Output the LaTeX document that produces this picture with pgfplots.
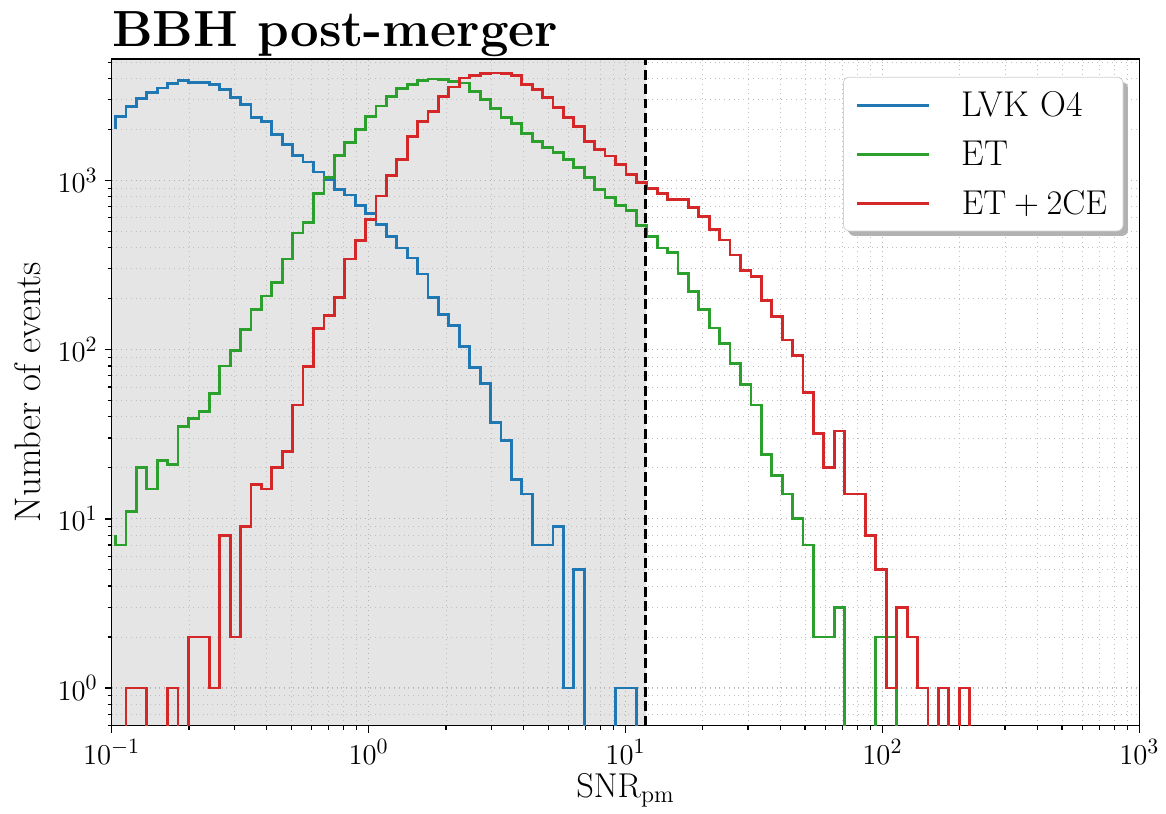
\documentclass[border=0pt]{standalone}
\usepackage{pgfplots}
\pgfplotsset{compat=1.18}
\usepackage{pgfplotstable}
\usetikzlibrary{shadows}

\definecolor{tabblue}{HTML}{1F77B4}
\definecolor{tabgreen}{HTML}{2CA02C}
\definecolor{tabred}{HTML}{D62728}
\definecolor{shade}{gray}{0.898}

% the legend's drop shadow is otherwise inherited by the legend lines
\makeatletter
\tikzset{no preactions/.code={\let\tikz@preactions\pgfutil@empty}}
\makeatother

% log-spaced bin edges; each row holds the count of the bin that ends at "edge"
% (first row: starting value of the step line; 0.01 = empty bin)
\pgfplotstableread{
edge    blue  green red
0.10364 2000  8     0.01
0.11378 2395  7     0.01
0.12491 2720  11    1
0.13713 3031  20    1
0.15054 3316  15    0.01
0.16527 3519  22    0.01
0.18144 3731  21    1
0.19919 3903  35    0.01
0.21868 3790  39    2
0.24007 3770  43    2
0.26355 3690  55    1
0.28934 3440  80    8
0.31764 3073  99    2
0.34873 2806  131   9
0.38284 2343  172   16
0.42029 2220  207   15
0.46139 1868  250   20
0.50654 1632  343   25
0.55609 1405  488   47
0.61050 1284  564   79
0.67021 1121  839   133
0.73580 1005  1039  159
0.80775 886   1405  204
0.88678 820   1683  343
0.97350 714   2000  440
1.0688  640   2395  585
1.1734  546   2750  809
1.2882  464   3141  1072
1.4142  398   3500  1331
1.5525  348   3696  1811
1.7044  280   3903  2238
1.8711  204   3977  2563
2.0542  161   3960  3141
2.2552  139   3850  3567
2.4758  104   3766  4031
2.7180  78    3362  4159
2.9839  63    3003  4272
3.2758  37    2648  4315
3.5962  29    2343  4272
3.9481  17    2170  4159
4.3342  14    1894  3681
4.7582  7     1706  3440
5.2236  7     1561  3073
5.7348  9     1458  2684
6.2956  1     1331  2343
6.9116  5     1190  2092
7.5874  0.01  1039  1706
8.3297  0.01  886   1525
9.1444  0.01  792   1392
10.040  1     707   1235
11.022  1     667   1085
12.101  0.01  539   971
13.284  0.01  464   895
14.584  0.01  398   839
16.011  0.01  376   774
17.577  0.01  283   774
19.297  0.01  221   692
21.185  0.01  172   609
23.256  0.01  134   515
25.533  0.01  108   444
28.030  0.01  83    362
30.772  0.01  62    293
33.782  0.01  47    271
37.088  0.01  24    195
40.715  0.01  18    156
44.700  0.01  14    114
49.070  0.01  10    92
53.871  0.01  7     56
59.140  0.01  2     32
64.927  0.01  2     20
71.278  0.01  3     33
78.253  0.01  0.01  14
85.908  0.01  0.01  14
94.312  0.01  0.01  8
103.54  0.01  2     5
113.67  0.01  2     1
124.79  0.01  0.01  3
137.00  0.01  0.01  2
150.40  0.01  0.01  1
165.12  0.01  0.01  0.01
181.27  0.01  0.01  1
199.00  0.01  0.01  0.01
218.47  0.01  0.01  1
239.84  0.01  0.01  0.01
}\hist

\begin{document}
\begin{tikzpicture}
\begin{axis}[
    name=ax,
    set layers,
    scale only axis,
    width=515.5pt, height=334.5pt,
    xmode=log, ymode=log,
    xmin=0.1, xmax=1000,
    ymin=0.598, ymax=5230,
    tick align=outside, tick pos=left,
    major tick length=3.5pt, minor tick length=2pt,
    axis line style={line width=0.8pt},
    every tick/.style={black, line width=0.8pt},
    minor tick style={line width=0.6pt},
    grid=both,
    major grid style={dotted, gray!60, line width=0.5pt},
    minor grid style={dotted, gray!50, line width=0.4pt},
    title={BBH post-merger},
    title style={font=\fontsize{25.5}{30}\selectfont\bfseries, at={(0,1)}, anchor=base west, inner sep=0pt},
    xlabel={$\mathrm{SNR}_{\mathrm{pm}}$},
    ylabel={Number of events},
    label style={font=\fontsize{18.5}{22}\selectfont},
    xlabel style={at={(axis description cs:0.5,-0.1076)}, anchor=base},
    ylabel style={at={(axis description cs:-0.0815,0.5)}, anchor=center},
    tick label style={font=\fontsize{15}{18}\selectfont},
    legend cell align=left,
    legend image code/.code={\draw[no preactions,#1] (0pt,0pt) -- (36pt,0pt);},
    legend style={at={(1,1)}, anchor=north east, xshift=-8pt, yshift=-9pt,
        draw=gray!35, rounded corners=3pt, fill=white,
        font=\fontsize{18}{21}\selectfont,
        drop shadow={shadow xshift=2.5pt, shadow yshift=-2.5pt, fill=gray!60, opacity=1},
        inner xsep=6pt, inner ysep=5pt, row sep=7pt, column sep=14pt},
]
\addplot[draw=none, fill=shade, on layer=axis background, forget plot]
    coordinates {(0.1,0.598) (12,0.598) (12,5230) (0.1,5230)};

\addplot[const plot mark right, tabblue, line width=1.4pt] table[x=edge, y=blue] {\hist};
\addlegendentry{LVK O4}
\addplot[const plot mark right, tabgreen, line width=1.4pt] table[x=edge, y=green] {\hist};
\addlegendentry{ET}
\addplot[const plot mark right, tabred, line width=1.4pt] table[x=edge, y=red] {\hist};
\addlegendentry{$\mathrm{ET}+2\mathrm{CE}$}

\addplot[black, line width=1.4pt, dash pattern=on 5pt off 2.2pt, forget plot]
    coordinates {(12,0.598) (12,5230)};
\end{axis}
% page margins as in the reference
\path ([shift={(-56pt,-44pt)}]ax.south west) rectangle ([shift={(11.5pt,29.5pt)}]ax.north east);
\end{tikzpicture}
\end{document}
